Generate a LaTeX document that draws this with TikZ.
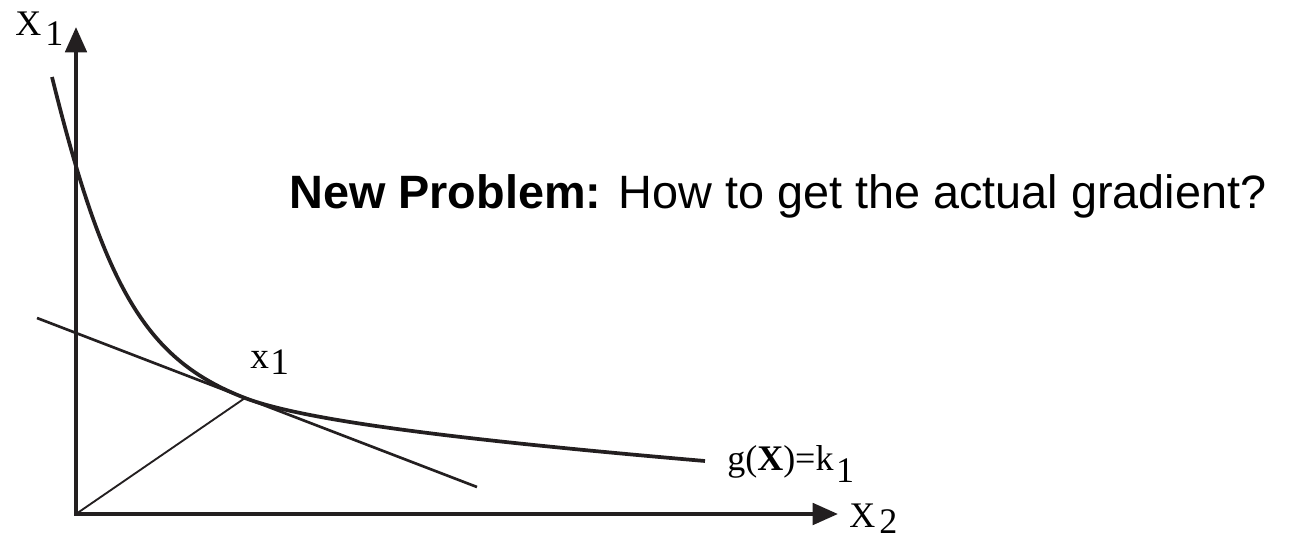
\documentclass[tikz,border=0pt]{standalone}
\usepackage{fontspec}
\setmainfont{Liberation Serif}
\setsansfont{Liberation Sans}
\usetikzlibrary{arrows.meta}
\definecolor{ink}{HTML}{231F20}

\begin{document}
\begin{tikzpicture}[x=0.75pt, y=-0.75pt,
	axis/.style={line width=3pt, color=ink, {Triangle[length=19pt,width=16pt]}-{Triangle[length=19pt,width=16pt]}},
	curve/.style={line width=2.8pt, color=ink},
	tangent/.style={line width=2pt, color=ink},
	radial/.style={line width=1.4pt, color=ink},
	lbl/.style={anchor=base west, inner sep=0pt, font=\fontsize{27}{30}\selectfont}]
	\useasboundingbox (0,0) rectangle (1289,539);
	\coordinate (o) at (76,514);
	\coordinate (ytip) at (76,27);
	\coordinate (xtip) at (838,514);
	\coordinate (tp) at (245,398);
	\coordinate (tla) at (37,318);
	\coordinate (tlb) at (477,487);
	% axes and the constraint curve
	\draw[axis] (ytip) -- (o) -- (xtip);
	\draw[curve] (52,77) .. controls (105,291) and (147,360) .. (tp)
		.. controls (300,419) and (438,438) .. (705,461);
	\draw[tangent] (tla) -- (tlb);
	\draw[radial] (o) -- (tp);
	% labels
	\node[lbl] (xa) at (15,36) {X\kern3pt\raisebox{-6.75pt}{1}};
	\node[lbl] (xb) at (849,527) {X\kern3pt\raisebox{-5pt}{2}};
	\node[lbl, font=\fontsize{28}{30}\selectfont] (pt) at (250,368) {x\kern1pt\raisebox{-4.5pt}{1}};
	\node[lbl] (gk) at (727,470) {g(\textbf{X})=k\kern2pt\raisebox{-9pt}{1}};
	\node[lbl, font=\sffamily\fontsize{35.1}{40}\selectfont] (np) at (289,208) {\textbf{New Problem:} How to get the actual gradient?};
\end{tikzpicture}
\end{document}
